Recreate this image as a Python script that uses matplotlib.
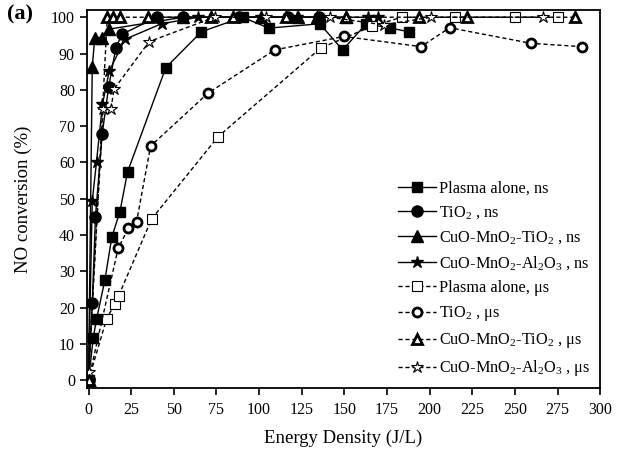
import matplotlib
matplotlib.use("Agg")
import matplotlib.pyplot as plt

plt.rcParams['font.family'] = ['Liberation Serif', 'DejaVu Serif']
plt.rcParams['mathtext.fontset'] = 'custom'
plt.rcParams['mathtext.rm'] = 'Liberation Serif'

# energy density (J/L) and NO conversion (%) for each catalyst / pulse width
plasma_ns_x = [0, 2.8, 4.7, 9.6, 13.7, 18.4, 22.9, 45.3, 66.2, 90.3, 105.7, 135.6, 149, 162.9, 177, 187.9]
plasma_ns_y = [0, 11.7, 16.8, 27.6, 39.5, 46.4, 57.4, 86.1, 96.0, 100, 97, 98.2, 91, 98.2, 97, 96]

tio2_ns_x = [0, 2.2, 4.1, 8.0, 11.8, 16, 19.6, 40, 55.5, 88, 117, 135]
tio2_ns_y = [0, 21.2, 45.1, 67.8, 80.7, 91.5, 95.3, 100, 100, 100, 100, 100]

cmt_ns_x = [0, 2.2, 3.7, 7.7, 11.8, 55.5, 101, 122.7, 134, 151]
cmt_ns_y = [0, 86.4, 94.4, 94.4, 96.7, 100, 100, 100, 100, 100]

cma_ns_x = [0, 2.2, 4.7, 8.2, 12.2, 21.3, 42.8, 64.3, 101, 122, 163.7, 170]
cma_ns_y = [0, 49.4, 60.2, 76.1, 85.2, 93.9, 98.2, 100, 100, 100, 100, 100]

plasma_us_x = [0, 10.6, 15.5, 17.6, 37.1, 76, 136.1, 166, 183.6, 215, 249.8, 275]
plasma_us_y = [0, 16.9, 21.1, 23.2, 44.5, 67.1, 91.5, 97.5, 100, 100, 100, 100]

tio2_us_x = [0, 17.4, 23.3, 28.2, 36.4, 70.1, 109.2, 149.8, 195, 211.7, 259.6, 289.2]
tio2_us_y = [0, 36.4, 41.8, 43.7, 64.5, 79.1, 91, 94.7, 91.9, 97.1, 92.8, 91.9]

cmt_us_x = [0, 11, 14.3, 18.4, 35, 72, 84.6, 116, 151, 194, 222, 285]
cmt_us_y = [0, 100, 100, 100, 100, 100, 100, 100, 100, 100, 100, 100]

cma_us_x = [0, 8.6, 13.1, 15, 35.6, 74, 104, 141.5, 173, 201, 266.4]
cma_us_y = [2.4, 74.6, 74.6, 80.2, 93.3, 100, 100, 100, 97.9, 100, 100]

sub = lambda s: s.replace('_2', r'$\mathregular{_2}$').replace('_3', r'$\mathregular{_3}$')
labels = [
    'Plasma alone, ns',
    sub('TiO_2 , ns'),
    sub('CuO-MnO_2-TiO_2 , ns'),
    sub('CuO-MnO_2-Al_2O_3 , ns'),
    'Plasma alone, \u03bcs',
    sub('TiO_2 , \u03bcs'),
    sub('CuO-MnO_2-TiO_2 , \u03bcs'),
    sub('CuO-MnO_2-Al_2O_3 , \u03bcs'),
]

fig = plt.figure(figsize=(6.2, 4.53), dpi=100)
ax = fig.add_axes([0.14, 0.143, 0.828, 0.835])

ls_ns = dict(color='black', lw=1.0, ls='-')
ls_us = dict(color='black', lw=1.0, ls=(0, (3, 2)))

ax.plot(plasma_ns_x, plasma_ns_y, marker='s', ms=7, mfc='black', mec='black', label=labels[0], **ls_ns)
ax.plot(tio2_ns_x, tio2_ns_y, marker='o', ms=8, mfc='black', mec='black', label=labels[1], **ls_ns)
ax.plot(cmt_ns_x, cmt_ns_y, marker='^', ms=8, mfc='black', mec='black', label=labels[2], **ls_ns)
ax.plot(cma_ns_x, cma_ns_y, marker='*', ms=9, mfc='black', mec='black', label=labels[3], **ls_ns)

ax.plot(plasma_us_x, plasma_us_y, marker='s', ms=7, mfc='white', mec='black', mew=0.8, label=labels[4], **ls_us)
ax.plot(tio2_us_x, tio2_us_y, marker='o', ms=6.5, mfc='white', mec='black', mew=2.0, label=labels[5], **ls_us)
ax.plot(cmt_us_x, cmt_us_y, marker='^', ms=7, mfc='white', mec='black', mew=2.0, label=labels[6], **ls_us)
ax.plot(cma_us_x, cma_us_y, marker='*', ms=9, mfc='white', mec='black', mew=0.8, label=labels[7], **ls_us)

ax.set_xlim(-1, 300)
ax.set_ylim(-2.2, 102)
ax.set_xticks(range(0, 301, 25))
ax.set_yticks(range(0, 101, 10))
ax.tick_params(direction='out', length=5, width=1.2, labelsize=11.5)
ax.tick_params(axis='x', pad=5)
for sp in ax.spines.values():
    sp.set_linewidth(1.3)

ax.set_xlabel('Energy Density (J/L)', fontsize=13.5, labelpad=8)
ax.set_ylabel('NO conversion (%)', fontsize=13.5, labelpad=14)

ax.legend(loc='lower right', bbox_to_anchor=(1.0, 0.0), frameon=False, fontsize=11.7,
          handlelength=2.35, labelspacing=0.5, handletextpad=0.2, borderaxespad=0.2)

fig.text(0.012, 0.968, '(a)', fontsize=16, fontweight='bold', va='center', ha='left')

fig.savefig('out.png', dpi=100)
